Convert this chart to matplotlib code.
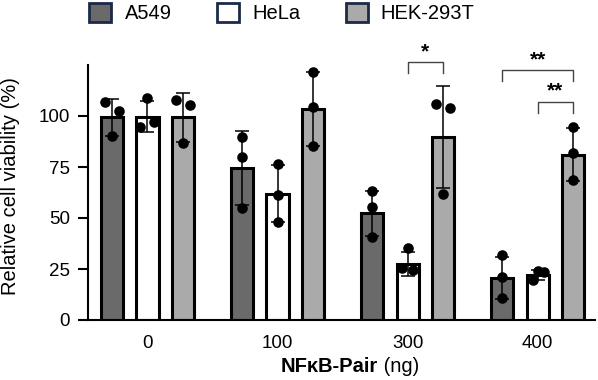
import matplotlib.pyplot as plt
import numpy as np
from matplotlib.patches import Patch

plt.rcParams['font.family'] = ['Liberation Sans', 'DejaVu Sans']

doses = ['0', '100', '300', '400']
lines = ['A549', 'HeLa', 'HEK-293T']
colors = ['#6a6a6a', '#ffffff', '#aaaaaa']

# bar heights (mean, %) and SD
a549_mean = [99.4, 74.5, 52.4, 20.6]
hela_mean = [99.6, 61.8, 27.5, 22.0]
hek_mean = [99.5, 103.4, 89.7, 81.0]
a549_sd = [9.0, 18.0, 11.0, 10.5]
hela_sd = [7.6, 14.0, 6.0, 2.5]
hek_sd = [12.0, 18.0, 25.0, 13.0]

# single replicates
a549_pts = [[107, 102.5, 90], [89.7, 80, 55], [63.2, 55.4, 40.7], [31.9, 21, 10.8]]
hela_pts = [[109, 94.6, 97], [76.5, 61.3, 48], [35.3, 25.5, 24.5], [19.6, 24, 23.5]]
hek_pts = [[108, 105.4, 86.8], [121.6, 104.4, 85.3], [106, 104, 61.8], [94.6, 81.8, 68.6]]

# horizontal jitter of the dots (in units of group spacing)
a549_jit = [[-0.054, 0.054, 0], [0, 0, 0], [0, 0, 0], [0, 0, 0]]
hela_jit = [[0, -0.054, 0.054], [0, 0, 0], [0, -0.04, 0.04], [-0.04, 0, 0.05]]
hek_jit = [[-0.054, 0.054, 0], [0, 0, 0], [-0.054, 0.054, 0], [0, 0, 0]]

# significance: (group, bar1, bar2, height, label)
sig = [(2, 1, 2, 126.5, '*'), (3, 0, 2, 122.5, '**'), (3, 1, 2, 107, '**')]

means = [a549_mean, hela_mean, hek_mean]
sds = [a549_sd, hela_sd, hek_sd]
pts = [a549_pts, hela_pts, hek_pts]
jits = [a549_jit, hela_jit, hek_jit]

fig = plt.figure(figsize=(5.98, 3.8), dpi=100)
ax = fig.add_axes([88 / 598, 60 / 380, 507 / 598, 255 / 380])

x = np.arange(len(doses))
step = 0.273
w = 0.17
for i in range(3):
    xs = x + (i - 1) * step
    ax.bar(xs, means[i], w, color=colors[i], edgecolor='black', linewidth=2.2, zorder=2)
    ax.errorbar(xs, means[i], yerr=sds[i], fmt='none', ecolor='black',
                elinewidth=1.1, capsize=5, capthick=1.1, zorder=3)
    for g in range(len(doses)):
        px = xs[g] + np.array(jits[i][g])
        ax.scatter(px, pts[i][g], s=58, color='black', zorder=4, linewidths=0)

for g, b1, b2, h, lab in sig:
    x1 = x[g] + (b1 - 1) * step
    x2 = x[g] + (b2 - 1) * step
    ax.plot([x1, x1, x2, x2], [h - 5.5, h, h, h - 5.5], color='#444444', lw=1.0,
            clip_on=False, zorder=3)
    ax.text((x1 + x2) / 2, h + 0.5, lab, ha='center', va='bottom', fontsize=15,
            fontweight='bold')

ax.set_xlim(-0.457, 3.44)
ax.set_ylim(0, 125)
ax.set_yticks([0, 25, 50, 75, 100])
ax.set_xticks(x)
ax.set_xticklabels(doses)
ax.tick_params(axis='x', length=0, labelsize=13.5, pad=11)
ax.tick_params(axis='y', length=7, width=1.5, labelsize=13.5, pad=6)
ax.spines['top'].set_visible(False)
ax.spines['right'].set_visible(False)
ax.spines['left'].set_linewidth(1.5)
ax.spines['bottom'].set_linewidth(1.5)

fig.text(11 / 598, 1 - 186.5 / 380, 'Relative cell viability (%)', rotation=90,
         ha='center', va='center', fontsize=14.5)
fig.text(378 / 598, 14 / 380, 'NFκB-Pair', ha='right', va='center', fontsize=14.5,
         fontweight='bold')
fig.text(378 / 598, 14 / 380, ' (ng)', ha='left', va='center', fontsize=14.5)

handles = [Patch(facecolor=c, edgecolor='#1c2a48', linewidth=2.0) for c in colors]
fig.legend(handles, lines, loc='center', bbox_to_anchor=(282 / 598, 1 - 13 / 380),
           ncol=3, frameon=False, fontsize=14.5, handlelength=1.1, handleheight=1.1,
           columnspacing=2.25, handletextpad=0.65)

fig.savefig('out.png', dpi=100)
